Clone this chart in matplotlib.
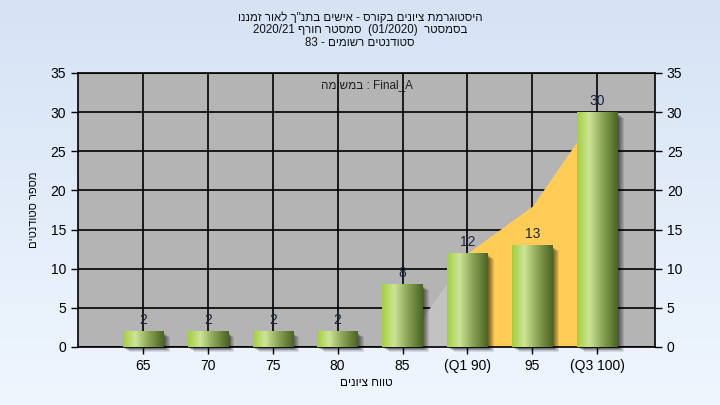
import matplotlib
matplotlib.use("Agg")
import matplotlib.pyplot as plt
import numpy as np
from matplotlib.patches import Rectangle
from matplotlib.colors import LinearSegmentedColormap
import re

plt.rcParams['font.family'] = ['Liberation Sans', 'DejaVu Sans']

# ---- data ----
categories = ["65", "70", "75", "80", "85", "(Q1 90)", "95", "(Q3 100)"]
counts = [2, 2, 2, 2, 8, 12, 13, 30]
gray_area_idx = [4, 5]
gray_area_vals = [0, 12]
yellow_area_idx = [5, 6, 7]
yellow_area_vals = [12, 18, 30]
yticks = [0, 5, 10, 15, 20, 25, 30, 35]

title_lines = [
    'היסטוגרמת ציונים בקורס - אישים בתנ"ך לאור זמננו',
    'בסמסטר  (01/2020)  סמסטר חורף 2020/21',
    'סטודנטים רשומים - 83',
]
inner_text = 'Final_A : במשימה'
xlabel = 'טווח ציונים'
ylabel = 'מספר סטודנטים'


def visual(s):
    """Convert logical RTL text into visual (LTR) order for matplotlib."""
    r = s[::-1]
    r = re.sub(r'[0-9A-Za-z/_.]+', lambda m: m.group(0)[::-1], r)
    r = r.translate(str.maketrans('()', ')('))
    return r


W, H = 720, 405
fig = plt.figure(figsize=(W / 100, H / 100), dpi=100)

# background gradient
bg = fig.add_axes([0, 0, 1, 1], zorder=-10)
bg.axis('off')
grad = np.linspace(0, 1, 256).reshape(-1, 1)
bg_cmap = LinearSegmentedColormap.from_list('bg', ['#d5e3f5', '#f0f6fe'])
bg.imshow(grad, aspect='auto', cmap=bg_cmap, extent=[0, 1, 0, 1])

L, R, T, B = 78, 655, 73, 347
ax = fig.add_axes([L / W, 1 - B / H, (R - L) / W, (B - T) / H])
ax.set_facecolor('#b4b4b4')
x = np.arange(len(categories))
ax.set_xlim(-1, 7.89)
ax.set_ylim(0, 35)

ax.set_yticks(yticks)
ax.set_xticks(x)
ax.set_xticklabels(categories)
ax.grid(True, color='black', linewidth=1.2, zorder=0)
ax.set_axisbelow(True)
ax.tick_params(axis='both', labelsize=10, length=5, width=1, color='black')
ax.tick_params(axis='y', right=True, labelright=True)
for sp in ax.spines.values():
    sp.set_color('black')
    sp.set_linewidth(1.2)

# areas
ax.fill_between(gray_area_idx, gray_area_vals, 0, color='#c2c2c2', zorder=1, linewidth=0)
ax.fill_between(yellow_area_idx, yellow_area_vals, 0, color='#ffcc55', zorder=1, linewidth=0)

# bars with cylindrical gradient
bar_w = 0.62
bars = ax.bar(x, counts, width=bar_w, color='none', edgecolor='none', zorder=4)
bar_cmap = LinearSegmentedColormap.from_list(
    'bar', [(0.0, '#a2cf3e'), (0.3, '#cfe498'), (0.6, '#8ea95a'), (1.0, '#4a6322')])
gx = np.linspace(0, 1, 256).reshape(1, -1)
for b in bars:
    x0, w, h = b.get_x(), b.get_width(), b.get_height()
    # soft shadow
    for k, a in zip(range(6), [0.10, 0.10, 0.10, 0.12, 0.12, 0.15]):
        off = 0.10 - k * 0.015
        ax.add_patch(Rectangle((x0 + off, -0.6 + k * 0.08), w, h - 0.1,
                               facecolor='black', alpha=a, edgecolor='none',
                               zorder=3, clip_on=False))
    im = ax.imshow(gx, aspect='auto', cmap=bar_cmap, extent=[x0, x0 + w, 0, h],
                   zorder=5, interpolation='bilinear')
    im.set_clip_path(b)
    ax.annotate(str(h), (x0 + w / 2, h), xytext=(0, 3), textcoords='offset points',
                ha='center', va='bottom', fontsize=10, color='#1c2440', zorder=6)
ax.set_xlim(-1, 7.89)
ax.set_ylim(0, 35)

ax.text(0.5, 0.955, visual(inner_text), transform=ax.transAxes, ha='center',
        va='center', fontsize=8.5, color='#202020')

ax.set_ylabel(visual(ylabel), fontsize=8, labelpad=8)
ax.set_xlabel(visual(xlabel), fontsize=8.5, labelpad=3)

for i, line in enumerate(title_lines):
    fig.text(0.5, 1 - (18 + 12.5 * i) / H, visual(line), ha='center', va='center',
             fontsize=8.3, color='#101010')

fig.savefig('out.png', dpi=100)
